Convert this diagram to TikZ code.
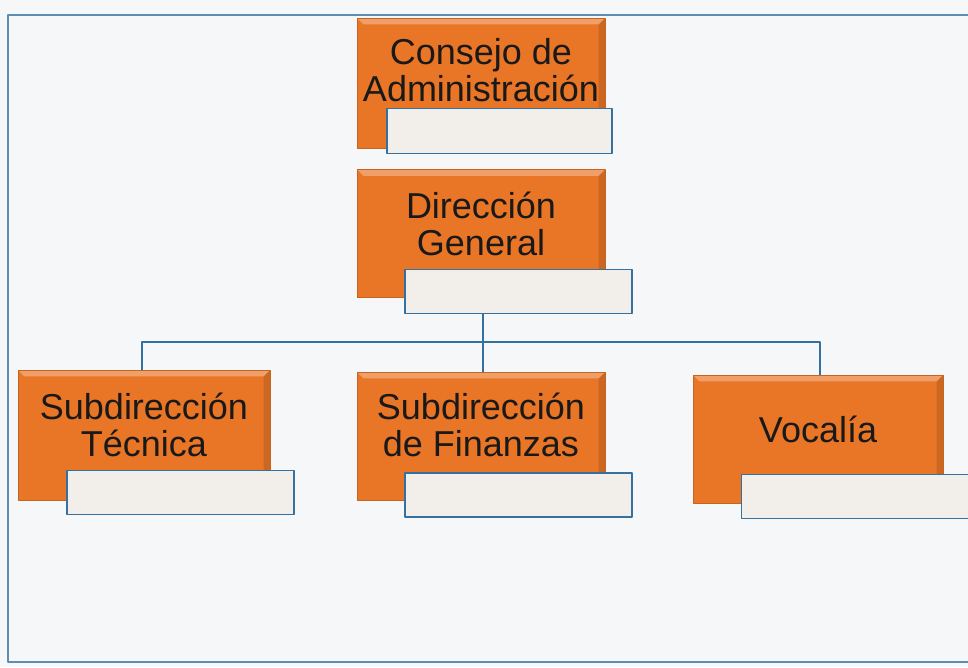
\documentclass[tikz,border=0pt]{standalone}
\usepackage{fontspec}
\setmainfont{Liberation Sans}
\definecolor{unitorange}{RGB}{233,118,38}
\definecolor{linkblue}{RGB}{52,112,160}
\definecolor{tagfill}{RGB}{242,239,235}
\definecolor{paper}{RGB}{245,247,249}
\begin{document}
\begin{tikzpicture}[line join=round, line cap=round,
	unit/.style={rectangle, fill=unitorange, draw=unitorange!85!black, line width=0.6pt, minimum width=6.2cm, minimum height=3.2cm, inner sep=0pt,
		path picture={
			\fill[white, opacity=0.3] (path picture bounding box.north west) -- (path picture bounding box.north east) -- ([shift={(-0.16,-0.16)}]path picture bounding box.north east) -- ([shift={(0.16,-0.16)}]path picture bounding box.north west) -- cycle;
			\fill[black, opacity=0.12] (path picture bounding box.north east) -- (path picture bounding box.south east) -- ([shift={(-0.16,0.16)}]path picture bounding box.south east) -- ([shift={(-0.16,-0.16)}]path picture bounding box.north east) -- cycle;}},
	unittext/.style={align=center, text=black!90, font=\fontsize{25.6}{26}\selectfont},
	tag/.style={rectangle, fill=tagfill, draw=linkblue, line width=1pt, minimum width=5.675cm, minimum height=1.1cm, inner sep=0pt},
	link/.style={draw=linkblue, line width=1.2pt}]
	\useasboundingbox[fill=paper] (0,0) rectangle (24.2,16.675);
	\draw[linkblue!80, line width=1.2pt] (24.2,16.3)--(0.2,16.3)--(0.2,0.125)--(24.2,0.125);
	% connectors
	\coordinate (bus) at (12.075,8.125);
	\node at (12.025,10.8375)[unit] (dir) {};
	\node at (12.9625,9.3875)[tag] (dirtag) {};
	\draw[link] (bus -| dirtag.south) ++(-0.885,0) coordinate (busup) -- (busup |- dirtag.south);
	\node at (3.6,5.8)[unit, minimum width=6.3cm, minimum height=3.25cm] (tec) {};
	\node at (12.025,5.775)[unit] (fin) {};
	\node at (20.45,5.7)[unit, minimum width=6.25cm] (voc) {};
	\draw[link] (tec.north -| 3.55,0) |- (bus) -| (voc.north -| 20.5,0);
	\draw[link] (bus) -- (fin.north -| bus);
	% units
	\node at (12.025,14.6)[unit, minimum height=3.25cm] (cons) {};
	\node at (12.4875,13.4)[tag, minimum width=5.625cm, minimum height=1.125cm] (constag) {};
	\node at ([yshift=0.325cm]cons.center)[unittext] (consT) {Consejo de\\Administración};
	\node at ([yshift=0.24cm]dir.center)[unittext] (dirT) {Dirección\\General};
	\node at (4.5125,4.3625)[tag] (tectag) {};
	\node at ([yshift=0.25cm]tec.center)[unittext] (tecT) {Subdirección\\Técnica};
	\node at (12.9625,4.3)[tag] (fintag) {};
	\node at ([yshift=0.275cm]fin.center)[unittext] (finT) {Subdirección\\de Finanzas};
	\node at (21.375,4.2625)[tag] (voctag) {};
	\node at ([yshift=0.25cm]voc.center)[unittext] (vocT) {Vocalía};
\end{tikzpicture}
\end{document}
